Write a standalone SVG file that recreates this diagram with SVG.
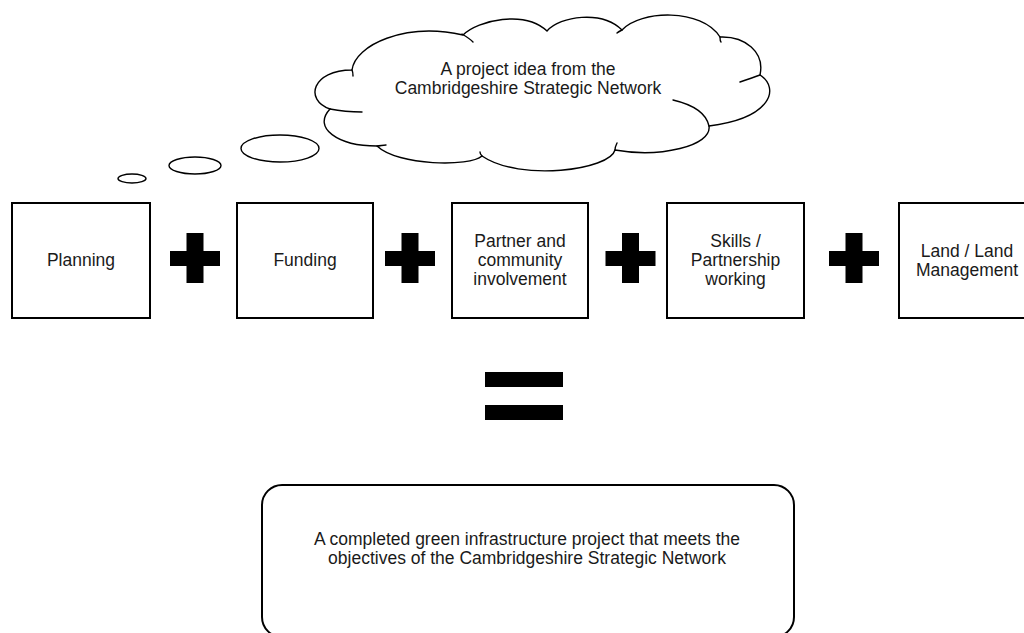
<svg xmlns="http://www.w3.org/2000/svg" width="1024" height="633" viewBox="0 0 1024 633">
<style>
  .box { fill: #fff; stroke: #000; stroke-width: 2; }
  .lbl { font-family: "Liberation Sans", Arial, sans-serif; font-size: 17.5px; fill: #1a1a1a; text-anchor: middle; }
  .plus { fill: #000; }
  .thin { fill: #fff; stroke: #000; stroke-width: 1.4; }
  .hook { fill: none; stroke: #000; stroke-width: 1.4; stroke-linecap: round; }
</style>
<rect width="1024" height="633" fill="#fff"/>

<g id="thought-bubbles">
  <ellipse class="thin" cx="132" cy="178.5" rx="14" ry="4.5"/>
  <ellipse class="thin" cx="195" cy="165.5" rx="26" ry="8.5"/>
  <ellipse class="thin" cx="280" cy="148.5" rx="39" ry="13.5"/>
</g>

<g id="cloud">
  <path class="thin" d="M 352,70 C 355,45 405,22 463,35 C 478,20 525,10 547,31 C 560,16 602,10 622,30 C 640,10 702,8 720,37 C 745,36 765,52 760,75 C 780,88 772,118 709,126 C 712,146 660,158 615,150 C 610,170 520,182 482,156 C 470,167 398,166 377,146 C 338,146 312,128 330,109 C 304,100 312,70 352,70 Z"/>
  <path class="hook" d="M 352,70 C 353,72 353,74 353,76"/>
  <path class="hook" d="M 462,34 C 467,37 470,39 473,42"/>
  <path class="hook" d="M 622,30 C 620,31 618,32 617,33"/>
  <path class="hook" d="M 720,37 C 720,39 720,41 721,42"/>
  <path class="hook" d="M 760,75 C 752,78 746,80 740,82"/>
  <path class="hook" d="M 709,126 C 706,112 690,104 673,100"/>
  <path class="hook" d="M 615,150 C 615,148 616,145 617,143"/>
  <path class="hook" d="M 482,156 C 481,155 480,154 480,152"/>
  <path class="hook" d="M 377,146 C 380,146 383,145 386,145"/>
  <path class="hook" d="M 330,109 C 340,111 352,112 362,112"/>
  <text class="lbl" x="528" y="75">A project idea from the</text>
  <text class="lbl" x="528" y="94">Cambridgeshire Strategic Network</text>
</g>

<g id="planning">
  <rect class="box" x="12" y="203" width="138" height="115"/>
  <text class="lbl" x="81" y="266">Planning</text>
</g>
<g id="funding">
  <rect class="box" x="237" y="203" width="136" height="115"/>
  <text class="lbl" x="305" y="266">Funding</text>
</g>
<g id="partner">
  <rect class="box" x="452" y="203" width="136" height="115"/>
  <text class="lbl" x="520" y="247">Partner and</text>
  <text class="lbl" x="520" y="266">community</text>
  <text class="lbl" x="520" y="285">involvement</text>
</g>
<g id="skills">
  <rect class="box" x="667" y="203" width="137" height="115"/>
  <text class="lbl" x="735.5" y="247">Skills /</text>
  <text class="lbl" x="735.5" y="266">Partnership</text>
  <text class="lbl" x="735.5" y="285">working</text>
</g>
<g id="land">
  <rect class="box" x="899" y="203" width="136" height="115"/>
  <text class="lbl" x="967" y="257">Land / Land</text>
  <text class="lbl" x="967" y="276">Management</text>
</g>

<g id="connectors">
  <g id="plus1" class="plus"><rect x="186.5" y="233" width="17" height="50"/><rect x="170" y="251" width="50" height="15"/></g>
  <g id="plus2" class="plus"><rect x="401.5" y="233" width="17" height="50"/><rect x="385" y="251" width="50" height="15"/></g>
  <g id="plus3" class="plus"><rect x="622" y="233" width="17" height="50"/><rect x="605.5" y="251" width="50" height="15"/></g>
  <g id="plus4" class="plus"><rect x="845.5" y="233" width="17" height="50"/><rect x="829" y="251" width="50" height="15"/></g>
  <g id="equals" class="plus"><rect x="485" y="372" width="78" height="15"/><rect x="485" y="405" width="78" height="15"/></g>
</g>

<g id="result">
  <rect class="box" x="262" y="485" width="532" height="152" rx="20" ry="20"/>
  <text class="lbl" x="527" y="545">A completed green infrastructure project that meets the</text>
  <text class="lbl" x="527" y="564">objectives of the Cambridgeshire Strategic Network</text>
</g>
</svg>
